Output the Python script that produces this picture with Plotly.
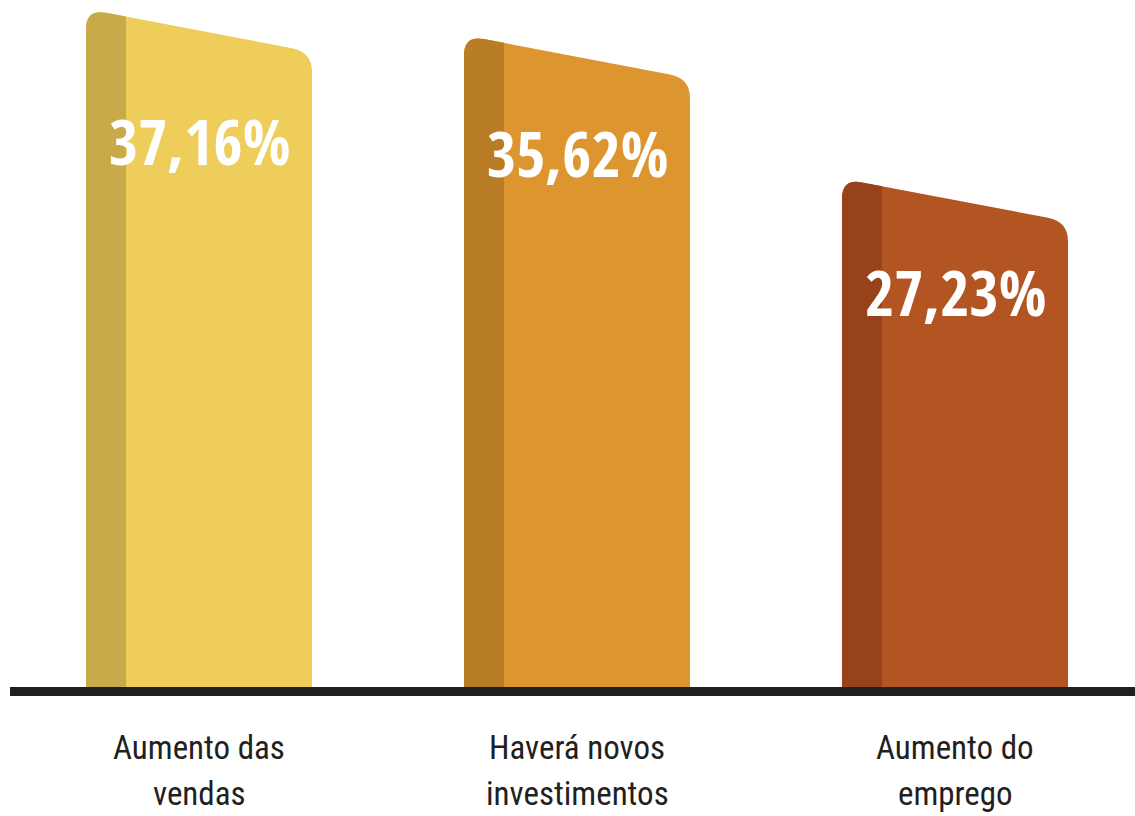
import plotly.graph_objects as go

# Survey answers and their shares (%)
categories = ["Aumento das<br>vendas", "Haverá novos<br>investimentos", "Aumento do<br>emprego"]
values = [37.16, 35.62, 27.23]
value_labels = ["37,16%", "35,62%", "27,23%"]
main_colors = ["#EFCD5B", "#DD962F", "#B35423"]
side_colors = ["#C8AA4A", "#B97D25", "#97421A"]

W, H = 1135, 816
PX_PER_X = 378.0          # pixels per category step
PX_PER_Y = 17.09          # pixels per percentage point
BASE_PX = 687             # baseline row from the top
X0_PX = 199               # centre of first bar

x_range = [-X0_PX / PX_PER_X, (W - X0_PX) / PX_PER_X]
y_range = [-(H - BASE_PX) / PX_PER_Y, BASE_PX / PX_PER_Y]

half_w = 113 / PX_PER_X
strip_w = 40 / PX_PER_X
slant = 43 / PX_PER_Y     # left top edge sits higher than the right one
rx = 20 / PX_PER_X
ry = 20 / PX_PER_Y

# how far below each bar's right top corner its value label sits (px)
label_drop_px = [89, 74, 70]

fig = go.Figure()
shapes = []

for i, (v, mc, sc) in enumerate(zip(values, main_colors, side_colors)):
    xl, xr = i - half_w, i + half_w
    yr_top = v
    yl_top = v + slant
    slope = (yl_top - yr_top) / (xr - xl)   # drop per x unit going right

    def top_at(x):
        return yl_top - slope * (x - xl)

    # full bar outline with rounded top corners
    body = (
        f"M {xl},0 L {xl},{yl_top - ry} "
        f"Q {xl},{yl_top} {xl + rx},{top_at(xl + rx)} "
        f"L {xr - rx},{top_at(xr - rx)} "
        f"Q {xr},{yr_top} {xr},{yr_top - ry} "
        f"L {xr},0 Z"
    )
    shapes.append(dict(type="path", path=body, xref="x", yref="y",
                       fillcolor=mc, line=dict(width=0), layer="below"))

    # darker left strip
    xs = xl + strip_w
    strip = (
        f"M {xl},0 L {xl},{yl_top - ry} "
        f"Q {xl},{yl_top} {xl + rx},{top_at(xl + rx)} "
        f"L {xs},{top_at(xs)} L {xs},0 Z"
    )
    shapes.append(dict(type="path", path=strip, xref="x", yref="y",
                       fillcolor=sc, line=dict(width=0), layer="below"))

# baseline
shapes.append(dict(type="rect", xref="paper", yref="y",
                   x0=10 / W, x1=1.0, y0=-9 / PX_PER_Y, y1=0,
                   fillcolor="#231F20", line=dict(width=0)))

annotations = []
for i, (v, lab, cat) in enumerate(zip(values, value_labels, categories)):
    annotations.append(dict(
        x=i, y=v - label_drop_px[i] / PX_PER_Y, xref="x", yref="y", text=lab,
        showarrow=False, xanchor="center", yanchor="middle",
        font=dict(family="Open Sans Condensed, Roboto Condensed, sans-serif",
                  size=63, color="white", weight="bold")))
    # category name, one annotation per line
    for k, line in enumerate(cat.split("<br>")):
        annotations.append(dict(
            x=i, y=-(747.5 + 46 * k - BASE_PX) / PX_PER_Y, xref="x", yref="y",
            text=line, showarrow=False, xanchor="center", yanchor="middle",
            font=dict(family="Roboto Condensed, sans-serif",
                      size=33, color="#231F20")))

fig.update_layout(
    width=W, height=H,
    margin=dict(l=0, r=0, t=0, b=0),
    paper_bgcolor="white", plot_bgcolor="white",
    xaxis=dict(range=x_range, visible=False, fixedrange=True),
    yaxis=dict(range=y_range, visible=False, fixedrange=True),
    shapes=shapes, annotations=annotations,
    showlegend=False,
)

fig.write_html("out.html")
